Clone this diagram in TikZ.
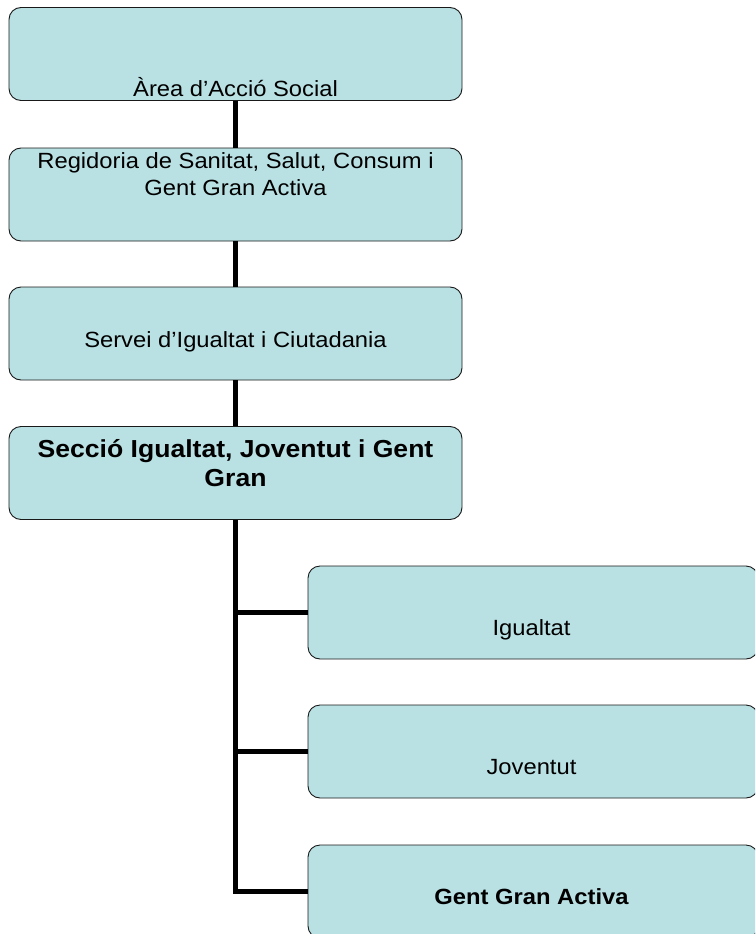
\documentclass[tikz,border=0pt]{standalone}
\usepackage{fontspec}
\setmainfont{Liberation Sans}[FakeStretch=1.08]
\definecolor{boxfill}{RGB}{185,224,227}
\tikzset{
    every node/.style={font=\fontsize{22}{27}\selectfont}
}
\tikzset{
    unit/.style={draw=black!90, line width=0.9pt, fill=boxfill,
    	rounded corners=12pt, minimum width=453pt, minimum height=93pt,
    	inner sep=0pt},
    subunit/.style={unit, minimum width=450pt},
    caption/.style={anchor=base, align=center, inner sep=0pt},
    link/.style={line width=5pt}
}

\begin{document}
\begin{tikzpicture}[x=1pt, y=-1pt]
	\clip (0,0) rectangle (755,934);
	\node [unit] (area) at (235.5,54) {};
	\node [unit] (regidoria) at (235.5,194.5) {};
	\node [unit] (servei) at (235.5,333.5) {};
	\node [unit] (seccio) at (235.5,473) {};
	\node [subunit] (igualtat) at (533,612.5) {};
	\node [subunit] (joventut) at (533,751.5) {};
	\node [subunit] (gentgran) at (533,891.5) {};
	\node [caption] (area-t) at (235.5,96) {Àrea d’Acció Social};
	\node [caption] (regidoria-t) at (235.5,195) {Regidoria de Sanitat, Salut, Consum i\\Gent Gran Activa};
	\node [caption] (servei-t) at (235.5,347) {Servei d’Igualtat i Ciutadania};
	\node [caption, font=\fontsize{24.6}{29.5}\selectfont\bfseries] (seccio-t) at (235.5,486.5) {Secció Igualtat, Joventut i Gent\\Gran};
	\node [caption] (igualtat-t) at (531.5,635) {Igualtat};
	\node [caption] (joventut-t) at (531.5,774) {Joventut};
	\node [caption, font=\fontsize{22}{27}\selectfont\bfseries] (gentgran-t) at (531.5,904) {Gent Gran Activa};
	\draw [link] (area) -- (regidoria); \draw [link] (regidoria) -- (servei);
	\draw [link] (servei) -- (seccio);
	\draw [link] (seccio.south) |- (gentgran.west);
	\draw [link] (seccio.south |- igualtat.west) -- (igualtat.west);
	\draw [link] (seccio.south |- joventut.west) -- (joventut.west);
\end{tikzpicture}
\end{document}
